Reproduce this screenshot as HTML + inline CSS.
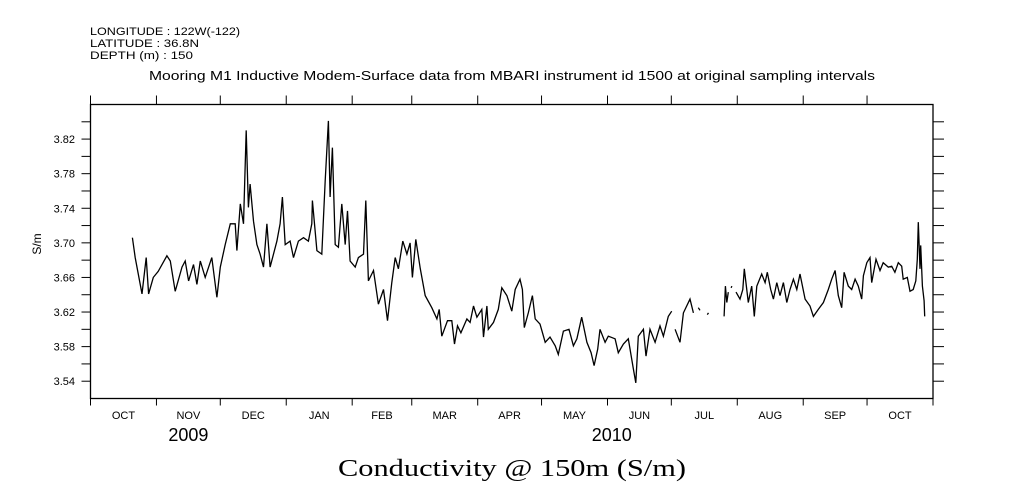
<!DOCTYPE html>
<html><head><meta charset="utf-8"><style>
body{margin:0;background:#fff;}
svg{display:block;}
text{font-family:"Liberation Sans",sans-serif;fill:#000;}
</style></head><body>
<svg id="chart" width="1009" height="504" viewBox="0 0 1009 504" xmlns="http://www.w3.org/2000/svg">
<rect width="1009" height="504" fill="#fff"/>
<g font-size="11">
<text x="90" y="35" textLength="150" lengthAdjust="spacingAndGlyphs">LONGITUDE : 122W(-122)</text>
<text x="90" y="47" textLength="109" lengthAdjust="spacingAndGlyphs">LATITUDE : 36.8N</text>
<text x="90" y="59" textLength="103" lengthAdjust="spacingAndGlyphs">DEPTH (m) : 150</text>
</g>
<text x="149" y="80" font-size="12.5" textLength="726" lengthAdjust="spacingAndGlyphs">Mooring M1 Inductive Modem-Surface data from MBARI instrument id 1500 at original sampling intervals</text>
<text x="338" y="476" font-size="24" textLength="348" lengthAdjust="spacingAndGlyphs" style="font-family:'Liberation Serif',serif">Conductivity @ 150m (S/m)</text>
<text transform="translate(41,244) rotate(-90)" font-size="12" text-anchor="middle">S/m</text>
<g id="axes"></g>
<g id="series"></g>
</svg>
<script>
const yTicks=[3.54,3.58,3.62,3.66,3.70,3.74,3.78,3.82];
const months=["OCT","NOV","DEC","JAN","FEB","MAR","APR","MAY","JUN","JUL","AUG","SEP","OCT"];
const monthLen=[31,30,31,31,28,31,30,31,30,31,31,30,31];
const years=["2009","2010"];
const yearDay=[46,245];
const days=[19.7,21,24.2,26.2,27.3,29.5,31.8,35.9,37.5,39.8,43,44.5,46.1,48.4,50,51.6,53.9,57,59.4,61,63.3,65.7,68,68.8,70.4,71.9,73.2,74.2,75,76.6,78.2,79.7,81.3,82.9,84.4,87.6,89.1,90.2,91.5,93.8,95.4,97.7,100.1,102.4,104,104.3,106.4,108.7,110.3,111.8,112.6,113.7,115,116.5,118.1,119.7,120.8,122,124.4,125.9,128.3,129.4,130.6,133,135.3,
137.7,139.6,141.6,143.2,144.7,146.8,148.7,150.2,151.3,152.9,155,157.3,160.4,162.8,163.9,165.1,167.8,169.8,171.1,172.5,174.1,176.9,178.4,180,181.6,183.9,184.7,186.3,187,189.4,191.7,193.3,195.7,198,199.6,201.9,203,203.9,205.8,207.7,209,211.3,213.7,216,218.4,219.9,222.3,224.9,227,228.6,230.9,233.3,235.3,236.7,238.4,239.5,241.9,243.4,246.6,248.1,250.5,252.8,255.2,256.3,257.5,259.9,261.1,263,265.4,267.7,269.3,271.6,273.2,274,274.8,277.1,278.7,281.8,283.4,284.5,285.7,286.5,288,289.9,290.5,294,
297.8,298.4,299.1,299.8,300.5,301.1,301.5,302.5,303.4,305.3,306.6,307.3,309.2,310.8,312,313.2,315.5,317.1,318.1,319.7,321,322.6,324.1,325.7,327.3,328.8,330.4,332,333.5,335.9,338.2,339.8,342.1,344.5,346.8,348.4,350,351.5,353.1,354.2,356.2,357.8,359.4,360.9,362.5,363.3,364.9,366.4,367.2,369.2,371.1,372.6,375,376.6,378.1,379.7,381.3,382,383.9,385.2,386.7,387.9,388.6,389.1,389.9,390.2,391,391.8,392.1];
const vals=[3.706,3.683,3.641,3.683,3.641,3.660,3.667,3.685,3.679,3.644,3.672,3.679,3.656,3.675,3.652,3.679,3.660,3.683,3.637,3.672,3.698,3.722,3.722,3.691,3.745,3.722,3.830,3.741,3.768,3.725,3.698,3.687,3.672,3.722,3.672,3.702,3.722,3.753,3.698,3.702,3.683,3.702,3.706,3.702,3.722,3.749,3.691,3.687,3.772,3.841,3.753,3.810,3.698,3.695,3.745,3.698,3.737,3.679,3.672,3.683,3.687,3.749,3.656,3.668,3.629,
3.646,3.610,3.654,3.683,3.670,3.702,3.687,3.700,3.660,3.704,3.670,3.639,3.625,3.612,3.623,3.592,3.610,3.610,3.583,3.604,3.596,3.612,3.608,3.627,3.614,3.623,3.591,3.627,3.600,3.608,3.623,3.648,3.639,3.621,3.646,3.658,3.646,3.602,3.619,3.639,3.612,3.606,3.585,3.591,3.581,3.571,3.598,3.600,3.581,3.589,3.614,3.585,3.573,3.558,3.577,3.600,3.585,3.592,3.589,3.573,3.583,3.589,3.554,3.538,3.592,3.600,3.569,3.600,3.585,3.604,3.592,3.615,3.621,null,3.600,3.585,3.619,3.635,3.619,null,3.625,3.622,null,3.617,3.619,null,
3.615,3.650,3.631,3.643,null,3.648,3.650,null,3.643,3.635,3.646,3.670,3.631,3.650,3.615,3.650,3.664,3.654,3.666,3.646,3.635,3.654,3.639,3.654,3.631,3.646,3.658,3.646,3.664,3.635,3.627,3.615,3.623,3.631,3.646,3.658,3.668,3.639,3.625,3.666,3.650,3.646,3.658,3.650,3.635,3.662,3.677,3.683,3.654,3.681,3.668,3.677,3.672,3.673,3.666,3.677,3.673,3.658,3.660,3.644,3.646,3.656,3.681,3.724,3.670,3.697,3.650,3.633,3.615];

const L=90.5,R=933,T=104.5,B=398.5,D0=0,D1=396,V0=3.52,V1=3.86;
const xs=d=>L+(d-D0)/(D1-D0)*(R-L);
const ys=v=>B-(v-V0)/(V1-V0)*(B-T);
const NS="http://www.w3.org/2000/svg";
const ax=document.getElementById('axes');
function mk(tag,at,parent){const e=document.createElementNS(NS,tag);for(const k in at)e.setAttribute(k,at[k]);parent.appendChild(e);return e;}
const fr=mk('rect',{x:L,y:T,width:R-L,height:B-T,fill:'none',stroke:'#000','stroke-width':1.3},ax);


for(let i=1;i<17;i++){const v=V0+i*0.02,y=ys(v);
 const t1=mk('line',{x1:L-9,x2:L,y1:y,y2:y,stroke:'#000','stroke-width':1},ax);
 
 
 const t2=mk('line',{x1:R,x2:R+11,y1:y,y2:y,stroke:'#000','stroke-width':1},ax);
 
 
}
yTicks.forEach(v=>{const t=mk('text',{x:75,y:ys(v)+4,'font-size':11,'text-anchor':'end'},ax);t.textContent=v.toFixed(2);
 
 });
let d=0;
months.forEach((m,i)=>{const x=xs(d);
 const a=mk('line',{x1:x,x2:x,y1:T-9,y2:T,stroke:'#000','stroke-width':1},ax);
 
 
 const b=mk('line',{x1:x,x2:x,y1:B,y2:B+7,stroke:'#000','stroke-width':1},ax);
 
 
 const t=mk('text',{x:xs(d+monthLen[i]/2),y:419,'font-size':11,'text-anchor':'middle'},ax);t.textContent=m;
 
 
 d+=monthLen[i];});
const xe=mk('line',{x1:R,x2:R,y1:B,y2:B+7,stroke:'#000'},ax);


years.forEach((y,i)=>{const t=mk('text',{x:xs(yearDay[i]),y:441,'font-size':18,'text-anchor':'middle'},ax);t.textContent=y;
 
 });
const sg=document.getElementById('series');
let p='',pen=false;
for(let i=0;i<days.length;i++){
 if(vals[i]==null){pen=false;continue;}
 p+=(pen?'L':'M')+xs(days[i]).toFixed(1)+' '+ys(vals[i]).toFixed(1);pen=true;}
const ln=mk('path',{d:p,fill:'none',stroke:'#000','stroke-width':1.3,'stroke-linejoin':'miter'},sg);


</script>
</body></html>
